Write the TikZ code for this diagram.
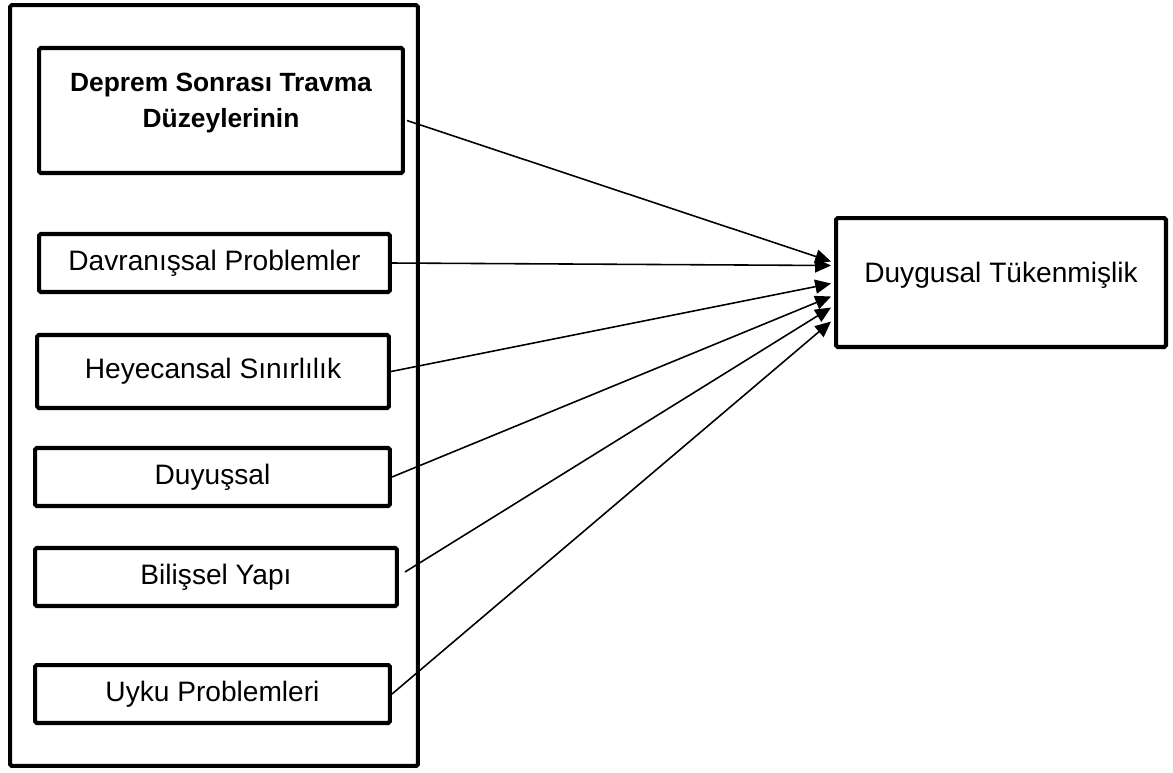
\documentclass[tikz,border=0pt]{standalone}
\usepackage{fontspec}
\setmainfont{Liberation Sans}
\usetikzlibrary{arrows.meta, calc}
\definecolor{BoxBlack}{HTML}{000000}
\definecolor{BoxWhite}{HTML}{ffffff}
\tikzset{
    % Box styles
    panel/.style={
        rectangle,
        draw=BoxBlack,
        line width=2.3pt,
        rounded corners=1pt,
        inner sep=0pt
    },
    factor/.style={
        rectangle,
        draw=BoxBlack,
        fill=BoxWhite,
        line width=2.3pt,
        rounded corners=1pt,
        inner sep=0pt,
        align=center,
        font=\fontsize{16}{20}\selectfont
    },
    outcome/.style={
        factor,
        minimum width=6.6cm,
        minimum height=2.58cm,
        text depth=12pt
    },
    % Arrow style
    arrow/.style={
        -{Triangle[length=9pt, width=8pt]},
        line width=0.9pt,
        draw=BoxBlack
    }
}

\begin{document}
\begin{tikzpicture}[x=0.02cm, y=-0.02cm]
    \useasboundingbox (0,0) rectangle (1173,772);

    \node[panel, minimum width=8.16cm, minimum height=15.22cm] (group) at (214,385.5) {};

    \node[factor, minimum width=7.28cm, minimum height=2.5cm, text depth=12pt, font=\fontsize{15}{20.5}\selectfont\bfseries] (trauma) at (221,110.5) {Deprem Sonrası Travma\\Düzeylerinin};
    \node[factor, minimum width=7.02cm, minimum height=1.16cm] (behav) at (214.5,263) {Davranışsal Problemler};
    \node[factor, minimum width=7.04cm, minimum height=1.46cm] (emot) at (213,371.5) {Heyecansal Sınırlılık};
    \node[factor, minimum width=7.1cm, minimum height=1.16cm] (sens) at (212.5,477) {Duyuşsal};
    \node[factor, minimum width=7.24cm, minimum height=1.16cm] (cogn) at (216,577) {Bilişsel Yapı};
    \node[factor, minimum width=7.1cm, minimum height=1.16cm] (sleep) at (212.5,694) {Uyku Problemleri};

    \node[outcome] (burnout) at (1001,282.5) {Duygusal Tükenmişlik};

    \draw[arrow] ($(trauma.east)+(2,10)$) -- ($(burnout.west)+(-3,-21)$);
    \draw[arrow] (behav.east) -- ($(burnout.west)+(-3,-17)$);
    \draw[arrow] (emot.east) -- ($(burnout.west)+(-3,1)$);
    \draw[arrow] (sens.east) -- ($(burnout.west)+(-3,14)$);
    \draw[arrow] ($(cogn.east)+(6,-5)$) -- ($(burnout.west)+(-3,25)$);
    \draw[arrow] (sleep.east) -- ($(burnout.west)+(-3,39)$);
\end{tikzpicture}
\end{document}
